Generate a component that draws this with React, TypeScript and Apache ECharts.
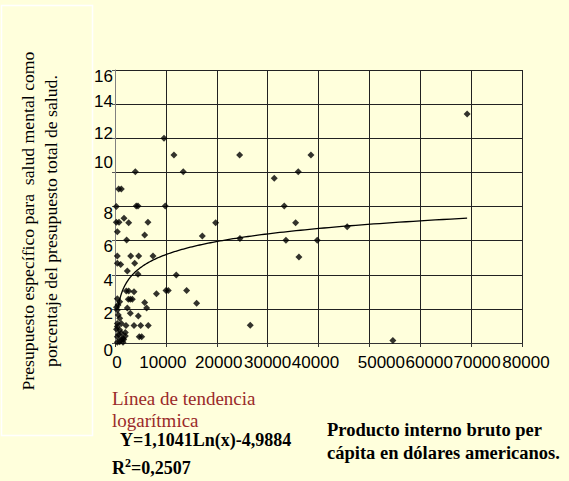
import React, { useEffect, useRef } from "react";
import * as echarts from "echarts";

// GDP per capita (USD) of each country
const gdpPerCapita = [
  720, 1240, 260, 4180, 4520, 9880, 260, 790, 1770, 2690, 6480,
  450, 2290, 5830, 450, 3080, 4650, 7470, 450, 1120, 3870, 2420, 4520,
  12040, 9630, 11590, 13420, 3990,
  19780, 17160, 24500, 24560, 31300, 33270, 33600,
  8150, 10020, 10470, 14080, 16050, 26590,
  2220, 2690, 3730, 2620, 3010, 3400,
  5830, 6220, 2420, 3010, 4580,
  2160, 3730, 5050, 6540, 4770, 5250,
  69210, 38510, 36020, 35500, 39750, 36150, 45640, 54620,
  450, 920, 590, 300, 450, 650, 920, 450, 1240, 450, 920, 1240, 450,
  1570, 920, 450, 1570, 1240, 700, 300, 2030, 2030, 1700,
];
// Mental-health budget as % of total health budget
const mentalHealthShare = [
  9.03, 9.03, 8.0, 8.03, 8.03, 8.03, 7.07, 7.07, 7.31, 7.05, 7.07,
  6.52, 6.04, 6.33, 5.1, 5.1, 5.1, 5.1, 4.67, 4.6, 4.67, 4.22, 4.03,
  3.99, 12.0, 11.02, 10.04, 10.04,
  7.05, 6.27, 11.02, 6.13, 9.65, 8.03, 6.02,
  2.89, 3.07, 3.07, 3.07, 2.33, 1.04,
  3.05, 3.05, 3.0, 2.56, 2.56, 2.56,
  2.38, 2.05, 2.05, 1.74, 1.58,
  1.02, 1.02, 1.02, 1.02, 0.37, 0.37,
  13.42, 11.02, 10.04, 7.05, 6.02, 5.04, 6.82, 0.14,
  2.6, 2.42, 2.23, 2.1, 1.93, 1.64, 1.45, 1.15, 1.15, 0.96, 0.76, 0.57, 0.37,
  0.27, 0.08, 0.05, 0.05, 0.2, 0.5, 0.8, 0.61, 0.41, 0.21,
];

const xTicks = [0, 10000, 20000, 30000, 40000, 50000, 60000, 70000, 80000];
const yTicks = [0, 2, 4, 6, 8, 10, 12, 14, 16];

// Logarithmic trend line printed on the chart: Y = 1,1041 Ln(x) - 4,9884
const trendSlope = 1.1041;
const trendIntercept = -4.9884;
const trendFrom = 600;
const trendTo = 69210;

const titleLines = [
  "Presupuesto específico para  salud mental como",
  "porcentaje del presupuesto total de salud.",
];
const trendLabel = ["Línea de tendencia", "logarítmica"];
const equationText = "Y=1,1041Ln(x)-4,9884";
const r2Value = "=0,2507";
const xTitleLines = ["Producto interno bruto per", "cápita en dólares americanos."];

// label nudges (px) reproducing the original's uneven tick-label placement
const yLabelDy: Record<number, number> = { 0: 7, 2: 5, 4: 6, 6: 5.5, 8: 6.5, 10: -9.5, 12: -5, 14: -3, 16: 6.7 };
const xLabelDx: Record<number, number> = { 0: 2, 10000: -3, 20000: 2, 30000: 0, 40000: -3, 50000: 12, 60000: 9, 70000: 6, 80000: 4 };

const SANS = '"Liberation Sans", Arial, sans-serif';
const SERIF = '"Liberation Serif", "Times New Roman", serif';

export default function App() {
  const ref = useRef<HTMLDivElement>(null);
  useEffect(() => {
    const chart = echarts.init(ref.current!, null, { renderer: "svg" });

    const points = gdpPerCapita.map((x, i) => [x, mentalHealthShare[i]]);
    const trend: number[][] = [];
    const steps = 200;
    for (let i = 0; i <= steps; i++) {
      const x = trendFrom * Math.pow(trendTo / trendFrom, i / steps);
      trend.push([x, trendSlope * Math.log(x) + trendIntercept]);
    }

    const yRich: Record<string, any> = {};
    yTicks.forEach((v) => {
      const d = yLabelDy[v] || 0;
      yRich["y" + v] = {
        fontFamily: SANS, fontSize: 17, color: "#000",
        padding: d >= 0 ? [2 * d, 0, 0, 0] : [0, 0, -2 * d, 0],
      };
    });
    const xRich: Record<string, any> = {};
    xTicks.forEach((v) => {
      const d = xLabelDx[v] || 0;
      xRich["x" + v] = {
        fontFamily: SANS, fontSize: 17, color: "#000",
        padding: d >= 0 ? [0, 0, 0, 2 * d] : [0, -2 * d, 0, 0],
      };
    });

    chart.setOption({
      animation: false,
      backgroundColor: "#FFFFDC",
      grid: { left: 115, right: 47, top: 70, bottom: 138 },
      xAxis: {
        type: "value",
        min: 0,
        max: 80000,
        interval: 10000,
        axisLine: { show: true, onZero: false, lineStyle: { color: "#333", width: 1 } },
        axisTick: { show: true, length: 4, lineStyle: { color: "#333" } },
        splitLine: { show: true, lineStyle: { color: "#222", width: 1 } },
        axisLabel: {
          margin: 11,
          fontFamily: SANS,
          fontSize: 17,
          color: "#000",
          formatter: (v: number) => `{x${v}|${v}}`,
          rich: xRich,
        },
      },
      yAxis: {
        type: "value",
        min: 0,
        max: 16,
        interval: 2,
        axisLine: { show: true, onZero: false, lineStyle: { color: "#808080", width: 1 } },
        axisTick: { show: true, length: 3, lineStyle: { color: "#555" } },
        splitLine: { show: true, lineStyle: { color: "#222", width: 1 } },
        axisLabel: {
          margin: 2,
          fontFamily: SANS,
          fontSize: 17,
          color: "#000",
          formatter: (v: number) => `{y${v}|${v}}`,
          rich: yRich,
        },
      },
      series: [
        {
          type: "line",
          data: trend,
          showSymbol: false,
          symbol: "none",
          lineStyle: { color: "#000", width: 1.3 },
          z: 2,
          silent: true,
        },
        {
          type: "scatter",
          data: points,
          symbol: "diamond",
          symbolSize: [7, 7],
          itemStyle: { color: "#000" },
          z: 3,
        },
      ],
      graphic: [
        {
          type: "rect",
          shape: { x: 1.5, y: 5.5, width: 91, height: 430 },
          style: { fill: "none", stroke: "#FFFFFF", lineWidth: 1.5 },
        },
        {
          type: "text",
          x: 39,
          y: 221,
          rotation: Math.PI / 2,
          style: {
            text: titleLines.join("\n"),
            fontFamily: SERIF,
            fontSize: 17.7,
            lineHeight: 23,
            fill: "#000",
            align: "center",
            verticalAlign: "middle",
          },
        },
        {
          type: "text",
          x: 112,
          y: 398,
          style: { text: trendLabel[0], fontFamily: SERIF, fontSize: 19, fill: "#9a2a2a", align: "left", verticalAlign: "middle" },
        },
        {
          type: "text",
          x: 112,
          y: 420,
          style: { text: trendLabel[1], fontFamily: SERIF, fontSize: 19, fill: "#9a2a2a", align: "left", verticalAlign: "middle" },
        },
        {
          type: "text",
          x: 120,
          y: 440,
          style: { text: equationText, fontFamily: SERIF, fontSize: 18, fontWeight: "bold", fill: "#000", align: "left", verticalAlign: "middle" },
        },
        {
          type: "text",
          x: 112,
          y: 468,
          style: {
            text: `{b|R}{s|2}{b|${r2Value}}`,
            align: "left",
            verticalAlign: "middle",
            rich: {
              b: { fontFamily: SERIF, fontSize: 18, fontWeight: "bold", fill: "#000", color: "#000" },
              s: { fontFamily: SERIF, fontSize: 12, fontWeight: "bold", fill: "#000", color: "#000", padding: [0, 0, 10, 0] },
            },
          },
        },
        {
          type: "text",
          x: 327,
          y: 430,
          style: { text: xTitleLines[0], fontFamily: SERIF, fontSize: 18.5, fontWeight: "bold", fill: "#000", align: "left", verticalAlign: "middle" },
        },
        {
          type: "text",
          x: 327,
          y: 453,
          style: { text: xTitleLines[1], fontFamily: SERIF, fontSize: 18.5, fontWeight: "bold", fill: "#000", align: "left", verticalAlign: "middle" },
        },
      ],
    });
    return () => chart.dispose();
  }, []);
  return (
    <div
      ref={ref}
      style={{ position: "fixed", left: 0, top: 0, width: 569, height: 481 }}
    />
  );
}
